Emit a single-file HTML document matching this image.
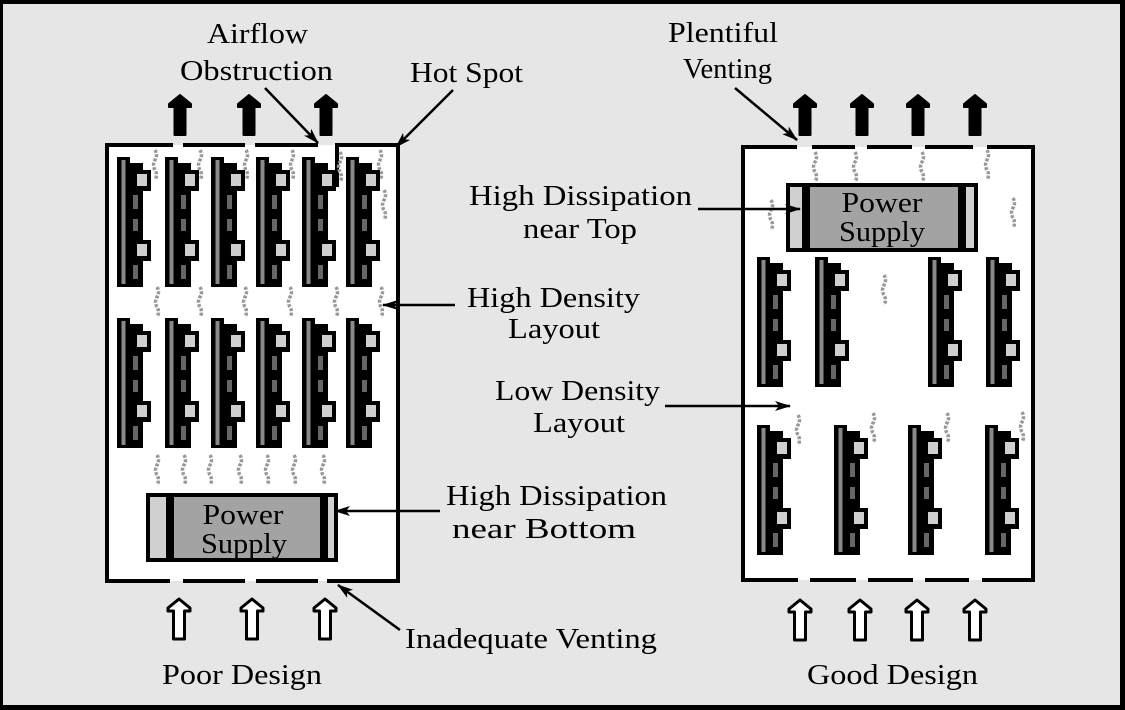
<!DOCTYPE html>
<html><head><meta charset="utf-8"><style>
html,body{margin:0;padding:0;background:#fff}
svg{display:block}
text{font-family:"Liberation Serif",serif;fill:#000}
</style></head><body>
<svg width="1125" height="710" viewBox="0 0 1125 710" xmlns="http://www.w3.org/2000/svg">
<defs>
<g id="comp">
 <rect x="0" y="0" width="13" height="130" fill="#000"/>
 <rect x="4.5" y="3" width="4" height="124" fill="#8a8a8a"/>
 <rect x="13" y="6" width="13" height="124" fill="#000"/>
 <rect x="16" y="38" width="5" height="14" fill="#666"/>
 <rect x="16" y="62" width="5" height="12" fill="#666"/>
 <rect x="16" y="108" width="5" height="14" fill="#666"/>
 <rect x="15" y="13" width="19" height="21" fill="#000"/><rect x="20" y="17" width="10" height="12" fill="#cfcfcf"/>
 <rect x="15" y="83" width="19" height="21" fill="#000"/><rect x="20" y="87" width="10" height="12" fill="#cfcfcf"/>
</g>
<path id="up" d="M-5.5,40 L-5.5,12 L-11,12 L-11,9 L0,0 L11,9 L11,12 L5.5,12 L5.5,40 Z"/>
<g id="sq"><path d="M0,0 q3,5 0,10 q-3,5 0,10 q3,5 0,10" fill="none" stroke="#999" stroke-width="3.5" stroke-dasharray="3 1.5"/></g>
<marker id="ah" markerWidth="16" markerHeight="10" refX="15" refY="5" orient="auto" markerUnits="userSpaceOnUse"><path d="M0,0 L16,5 L0,10 L4,5 Z" fill="#000"/></marker>
</defs>
<rect x="0" y="0" width="1125" height="710" fill="#000"/>
<rect x="3" y="4" width="1117" height="701" fill="#e6e6e6"/>

<!-- LEFT BOX -->
<rect x="107" y="145" width="291" height="436" fill="#fff"/>
<g stroke="#000" stroke-width="4" fill="none">
 <line x1="107" y1="143" x2="107" y2="583"/>
 <line x1="398" y1="143" x2="398" y2="583"/>
 <line x1="105" y1="145" x2="173" y2="145"/>
 <line x1="183" y1="145" x2="245" y2="145"/>
 <line x1="255" y1="145" x2="318" y2="145"/>
 <line x1="337" y1="145" x2="400" y2="145"/>
 <line x1="337" y1="143" x2="337" y2="187"/>
 <line x1="105" y1="581" x2="170" y2="581"/>
 <line x1="183" y1="581" x2="245" y2="581"/>
 <line x1="256" y1="581" x2="318" y2="581"/>
 <line x1="327" y1="581" x2="400" y2="581"/>
</g>
<g>
 <use href="#sq" x="155" y="150"/><use href="#sq" x="200" y="150"/><use href="#sq" x="246" y="150"/><use href="#sq" x="292" y="150"/><use href="#sq" x="340" y="152"/><use href="#sq" x="380" y="150"/><use href="#sq" x="384" y="190"/>
 <use href="#sq" x="157" y="287"/><use href="#sq" x="200" y="287"/><use href="#sq" x="245" y="287"/><use href="#sq" x="290" y="287"/><use href="#sq" x="336" y="287"/><use href="#sq" x="381" y="287"/>
 <use href="#sq" x="157" y="455"/><use href="#sq" x="184" y="455"/><use href="#sq" x="210" y="455"/><use href="#sq" x="240" y="455"/><use href="#sq" x="267" y="455"/><use href="#sq" x="294" y="455"/><use href="#sq" x="323" y="455"/>
</g>
<use href="#comp" x="117" y="157"/><use href="#comp" x="165" y="157"/><use href="#comp" x="211" y="157"/><use href="#comp" x="256" y="157"/><use href="#comp" x="302" y="157"/><use href="#comp" x="346" y="157"/>
<use href="#comp" x="117" y="318"/><use href="#comp" x="165" y="318"/><use href="#comp" x="211" y="318"/><use href="#comp" x="256" y="318"/><use href="#comp" x="302" y="318"/><use href="#comp" x="346" y="318"/>

<!-- left power supply -->
<rect x="148" y="495" width="188" height="65" fill="#a3a3a3" stroke="#000" stroke-width="4"/>
<rect x="150" y="497" width="16" height="61" fill="#d0d0d0"/><rect x="166" y="497" width="8" height="61" fill="#000"/>
<rect x="320" y="497" width="8" height="61" fill="#000"/><rect x="328" y="497" width="6" height="61" fill="#d0d0d0"/>
<text x="243" y="524" font-size="29" text-anchor="middle" textLength="81" lengthAdjust="spacingAndGlyphs">Power</text>
<text x="244" y="553" font-size="29" text-anchor="middle" textLength="86" lengthAdjust="spacingAndGlyphs">Supply</text>

<!-- left arrows -->
<g fill="#000" stroke="#000" stroke-width="2" stroke-linejoin="round">
 <use href="#up" x="180" y="95"/><use href="#up" x="249" y="95"/><use href="#up" x="326" y="95"/>
</g>
<g fill="#fff" stroke="#000" stroke-width="3" stroke-linejoin="round">
 <use href="#up" x="179" y="599"/><use href="#up" x="252" y="599"/><use href="#up" x="325" y="599"/>
</g>

<!-- RIGHT BOX -->
<rect x="743" y="147" width="290" height="433" fill="#fff"/>
<g stroke="#000" stroke-width="4" fill="none">
 <line x1="743" y1="145" x2="743" y2="582"/>
 <line x1="1033" y1="145" x2="1033" y2="582"/>
 <line x1="741" y1="147" x2="797" y2="147"/>
 <line x1="812" y1="147" x2="855" y2="147"/>
 <line x1="867" y1="147" x2="912" y2="147"/>
 <line x1="925" y1="147" x2="973" y2="147"/>
 <line x1="987" y1="147" x2="1035" y2="147"/>
 <line x1="741" y1="580" x2="798" y2="580"/>
 <line x1="810" y1="580" x2="856" y2="580"/>
 <line x1="868" y1="580" x2="913" y2="580"/>
 <line x1="925" y1="580" x2="969" y2="580"/>
 <line x1="982" y1="580" x2="1035" y2="580"/>
</g>
<g>
 <use href="#sq" x="815" y="152"/><use href="#sq" x="855" y="152"/><use href="#sq" x="922" y="152"/><use href="#sq" x="987" y="150"/>
 <use href="#sq" x="771" y="200"/><use href="#sq" x="1013" y="198"/><use href="#sq" x="884" y="275"/>
 <use href="#sq" x="798" y="415"/><use href="#sq" x="873" y="413"/><use href="#sq" x="947" y="413"/><use href="#sq" x="1022" y="412"/>
</g>
<!-- right power supply -->
<rect x="788" y="185" width="188" height="65" fill="#a3a3a3" stroke="#000" stroke-width="4"/>
<rect x="790" y="187" width="12" height="61" fill="#d0d0d0"/><rect x="802" y="187" width="8" height="61" fill="#000"/>
<rect x="958" y="187" width="8" height="61" fill="#000"/><rect x="966" y="187" width="8" height="61" fill="#d0d0d0"/>
<text x="882" y="212" font-size="29" text-anchor="middle" textLength="81" lengthAdjust="spacingAndGlyphs">Power</text>
<text x="882" y="241" font-size="29" text-anchor="middle" textLength="86" lengthAdjust="spacingAndGlyphs">Supply</text>
<use href="#comp" x="757" y="257"/><use href="#comp" x="815" y="257"/><use href="#comp" x="928" y="257"/><use href="#comp" x="986" y="257"/>
<use href="#comp" x="757" y="425"/><use href="#comp" x="834" y="425"/><use href="#comp" x="908" y="425"/><use href="#comp" x="985" y="425"/>

<g fill="#000" stroke="#000" stroke-width="2" stroke-linejoin="round">
 <use href="#up" x="805" y="95"/><use href="#up" x="862" y="95"/><use href="#up" x="918" y="95"/><use href="#up" x="975" y="95"/>
</g>
<g fill="#fff" stroke="#000" stroke-width="3" stroke-linejoin="round">
 <use href="#up" x="800" y="600"/><use href="#up" x="860" y="600"/><use href="#up" x="917" y="600"/><use href="#up" x="975" y="600"/>
</g>

<!-- labels -->
<g font-size="28">
<text x="207" y="43" textLength="101" lengthAdjust="spacingAndGlyphs">Airflow</text>
<text x="180" y="80" textLength="153" lengthAdjust="spacingAndGlyphs">Obstruction</text>
<text x="410" y="82" textLength="113" lengthAdjust="spacingAndGlyphs">Hot Spot</text>
<text x="668" y="42" textLength="110" lengthAdjust="spacingAndGlyphs">Plentiful</text>
<text x="683" y="78" textLength="89" lengthAdjust="spacingAndGlyphs">Venting</text>
<text x="469" y="205" textLength="223" lengthAdjust="spacingAndGlyphs">High Dissipation</text>
<text x="523" y="238" textLength="114" lengthAdjust="spacingAndGlyphs">near Top</text>
<text x="467" y="307" textLength="173" lengthAdjust="spacingAndGlyphs">High Density</text>
<text x="508" y="338" textLength="92" lengthAdjust="spacingAndGlyphs">Layout</text>
<text x="495" y="400" textLength="165" lengthAdjust="spacingAndGlyphs">Low Density</text>
<text x="533" y="432" textLength="92" lengthAdjust="spacingAndGlyphs">Layout</text>
<text x="446" y="505" textLength="221" lengthAdjust="spacingAndGlyphs">High Dissipation</text>
<text x="452" y="538" textLength="184" lengthAdjust="spacingAndGlyphs">near Bottom</text>
<text x="405" y="648" textLength="252" lengthAdjust="spacingAndGlyphs">Inadequate Venting</text>
<text x="162" y="684" textLength="160" lengthAdjust="spacingAndGlyphs">Poor Design</text>
<text x="807" y="684" textLength="171" lengthAdjust="spacingAndGlyphs">Good Design</text>
</g>

<!-- leader arrows -->
<g stroke="#000" stroke-width="2.5" fill="none" marker-end="url(#ah)">
 <line x1="265" y1="88" x2="318" y2="143"/>
 <line x1="453" y1="90" x2="396" y2="147"/>
 <line x1="735" y1="88" x2="797" y2="140"/>
 <line x1="698" y1="209" x2="800" y2="209"/>
 <line x1="455" y1="305" x2="383" y2="305"/>
 <line x1="665" y1="406" x2="790" y2="406"/>
 <line x1="440" y1="511" x2="335" y2="511"/>
 <line x1="400" y1="630" x2="338" y2="585"/>
</g>
</svg>
</body></html>
